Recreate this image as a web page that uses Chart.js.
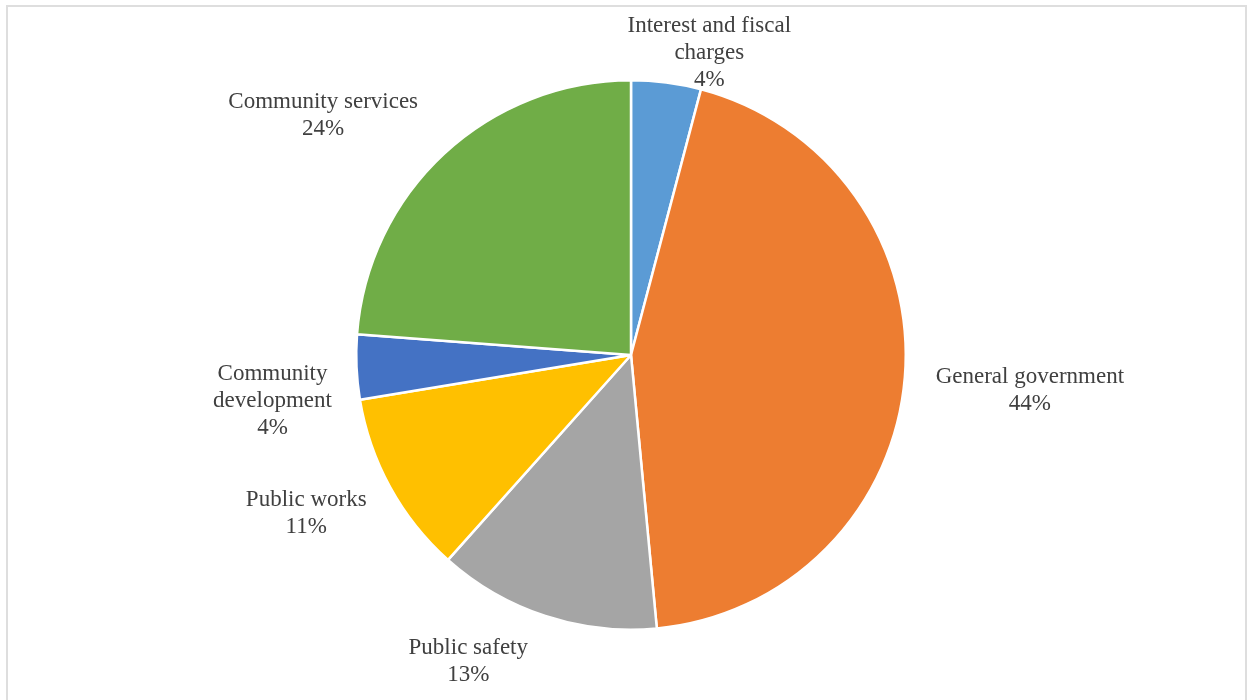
<!DOCTYPE html>
<html lang="en">
<head>
    <meta charset="UTF-8">
    <title>Expenses by function</title>
    <script src="https://cdn.jsdelivr.net/npm/chart.js"></script>
    <style>
      html, body { margin: 0; padding: 0; background: #fff; }
      #wrap { position: relative; width: 1254px; height: 700px; }
      #frame {
        position: absolute; left: 6px; top: 5px; right: 7px; bottom: -2px;
        border: 2px solid #dedede; box-sizing: border-box;
      }
    </style>
</head>
<body>
<div id="wrap">
    <div id="frame"></div>
    <canvas id="myChart" width="1254" height="700"></canvas>
</div>

<script>
    const categories = ['Interest and fiscal charges', 'General government', 'Public safety',
                        'Public works', 'Community development', 'Community services'];
    const shares = [4.1, 44.4, 13.1, 10.8, 3.8, 23.8];
    const colors = ['#5B9BD5', '#ED7D31', '#A5A5A5', '#FFC000', '#4472C4', '#70AD47'];

    // label text lines (as wrapped in the original)
    const labelLines = [
        ['Interest and fiscal', 'charges'],
        ['General government'],
        ['Public safety'],
        ['Public works'],
        ['Community', 'development'],
        ['Community services']
    ];
    // shift of each label's centre from the outer mid point of its slice
    const labelNudge = [[43, -30], [125, 13], [-77, 45], [-84, 26], [-84, 34], [-121, -38]];

    const outsideLabels = {
        id: 'outsideLabels',
        afterDatasetsDraw(chart) {
            const {ctx} = chart;
            const meta = chart.getDatasetMeta(0);
            const total = shares.reduce((s, v) => s + v, 0);
            const lineH = 27;

            ctx.save();
            ctx.font = '23px "Liberation Serif", "Times New Roman", serif';
            ctx.fillStyle = '#404040';
            ctx.textAlign = 'center';
            ctx.textBaseline = 'middle';

            meta.data.forEach((arc, i) => {
                const mid = (arc.startAngle + arc.endAngle) / 2;
                const ax = arc.x + Math.cos(mid) * arc.outerRadius;
                const ay = arc.y + Math.sin(mid) * arc.outerRadius;
                const cx = ax + labelNudge[i][0];
                const cy = ay + labelNudge[i][1];
                const lines = labelLines[i].concat([Math.round(shares[i] / total * 100) + '%']);
                const top = cy - (lines.length - 1) * lineH / 2;
                lines.forEach((t, k) => ctx.fillText(t, cx, top + k * lineH));
            });
            ctx.restore();
        }
    };

    const config = {
        type: 'pie',
        data: {
            labels: categories,
            datasets: [{
                data: shares,
                backgroundColor: colors,
                borderColor: '#ffffff',
                borderWidth: 2.5,
                hoverOffset: 0
            }]
        },
        options: {
            responsive: false,
            animation: false,
            layout: {
                padding: { top: 79, bottom: 69, left: 355, right: 347 }
            },
            plugins: {
                legend: { display: false },
                tooltip: { enabled: false }
            }
        },
        plugins: [outsideLabels]
    };

    new Chart(document.getElementById('myChart').getContext('2d'), config);
</script>
</body>
</html>
